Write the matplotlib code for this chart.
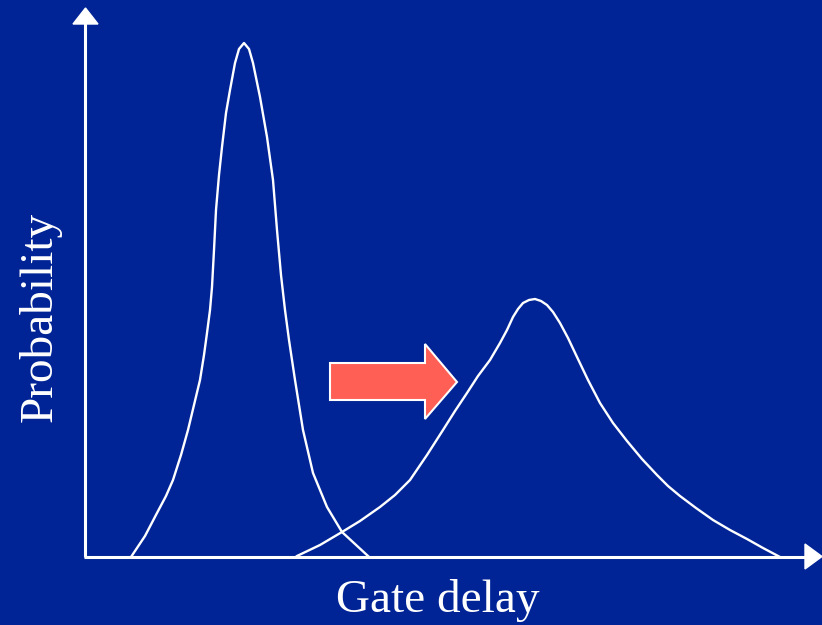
import matplotlib.pyplot as plt
from matplotlib.patches import Polygon

plt.rcParams['font.family'] = ['Liberation Serif', 'DejaVu Serif']

bg = '#002496'

# narrow distribution (before), read in pixel units
early_x = [131, 145, 157, 166, 173, 181, 188, 194, 200, 204, 207, 210, 212, 214, 216, 219, 222, 226, 230, 235, 239, 244,
           249, 253, 260, 267, 273, 277, 281, 285, 289, 295, 303, 313, 327, 342, 355, 368]
early_y = [557, 536, 513, 496, 480, 455, 430, 405, 380, 355, 333, 310, 287, 250, 210, 175, 147, 113, 90, 63, 49, 43,
           49, 63, 97, 137, 180, 230, 275, 310, 340, 380, 430, 473, 507, 532, 544, 556]

# wide distribution (after)
late_x = [297, 320, 342, 360, 380, 395, 410, 427, 443, 455, 467, 478, 490, 500, 507, 513, 518, 523, 529, 535, 541, 547,
          553, 560, 568, 577, 588, 600, 613, 627, 642, 657, 668, 680, 696, 713, 730, 747, 763, 780]
late_y = [556, 545, 532, 521, 507, 495, 480, 455, 430, 411, 393, 376, 360, 343, 330, 317, 309, 303, 300, 299, 301, 305,
          312, 323, 338, 357, 380, 403, 423, 441, 459, 475, 486, 496, 508, 520, 530, 539, 548, 557]

# shift arrow outline
shift_x = [330, 425, 425, 457, 425, 425, 330]
shift_y = [363, 363, 344, 382, 419, 400, 400]

W, H = 822, 625
fig = plt.figure(figsize=(W / 100, H / 100), dpi=100, facecolor=bg)
ax = fig.add_axes([0, 0, 1, 1])
ax.set_facecolor(bg)
ax.set_xlim(0, W)
ax.set_ylim(H, 0)
ax.axis('off')

# axes with arrowheads
ax.plot([85, 85], [557, 22], color='white', lw=2.2, solid_capstyle='butt')
ax.plot([84, 806], [556.5, 556.5], color='white', lw=2.2, solid_capstyle='butt')
ax.add_patch(Polygon([[73, 24], [98, 24], [85.5, 8]], closed=True, color='white'))
ax.add_patch(Polygon([[805, 544], [805, 569], [822, 556.5]], closed=True, color='white'))

ax.plot(early_x, early_y, color='white', lw=1.7, solid_joinstyle='round')
ax.plot(late_x, late_y, color='white', lw=1.7, solid_joinstyle='round')

ax.add_patch(Polygon(list(zip(shift_x, shift_y)), closed=True,
                     facecolor='#FF5F55', edgecolor='white', lw=1.5))

ax.text(438, 601, 'Gate delay', color='white', fontsize=34, ha='center', va='center')
ax.text(40, 317, 'Probability', color='white', fontsize=34, ha='center', va='center', rotation=90)

fig.savefig('out.png', dpi=100, facecolor=bg)
